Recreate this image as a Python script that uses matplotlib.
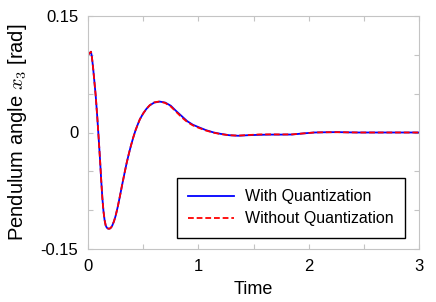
import matplotlib
matplotlib.use("Agg")
import matplotlib.pyplot as plt

# ---- data ----
t_quant = [0.0, 0.01, 0.02, 0.027, 0.035, 0.045, 0.055, 0.07, 0.085, 0.097,
           0.109, 0.12, 0.13, 0.14, 0.15, 0.16, 0.17, 0.18, 0.19, 0.2,
           0.21, 0.22, 0.235, 0.25, 0.27, 0.29, 0.31, 0.33, 0.35, 0.37,
           0.39, 0.41, 0.43, 0.45, 0.47, 0.50, 0.53, 0.56, 0.60, 0.65,
           0.70, 0.75, 0.80, 0.85, 0.90, 0.95, 1.00, 1.07, 1.14, 1.2,
           1.28, 1.36, 1.45, 1.55, 1.65, 1.75, 1.85, 1.95, 2.05, 2.15,
           2.26, 2.35, 2.45, 2.6, 2.8, 3.0]
y_quant = [0.1000, 0.1015, 0.1030, 0.1040, 0.0975, 0.0850, 0.0700, 0.0470, 0.0180, -0.0080,
           -0.0350, -0.0620, -0.0840, -0.1010, -0.1125, -0.1195, -0.1225, -0.1236, -0.1239, -0.1235,
           -0.1222, -0.1198, -0.1145, -0.1075, -0.0955, -0.0815, -0.0670, -0.0530, -0.0395, -0.0275,
           -0.0165, -0.0065, 0.0025, 0.0100, 0.0170, 0.0245, 0.0305, 0.0350, 0.0385, 0.0398,
           0.0385, 0.0345, 0.0275, 0.0210, 0.0145, 0.0100, 0.0070, 0.0030, 0.0000, -0.0017,
           -0.0035, -0.0042, -0.0035, -0.0030, -0.0027, -0.0027, -0.0026, -0.0012, 0.0000, 0.0003,
           0.0005, 0.0002, 0.0000, 0.0000, 0.0000, 0.0000]

t_noquant = list(t_quant)
y_noquant = [0.1000, 0.1015, 0.1030, 0.1040, 0.0975, 0.0850, 0.0700, 0.0470, 0.0180, -0.0080,
             -0.0350, -0.0620, -0.0840, -0.1010, -0.1125, -0.1195, -0.1225, -0.1236, -0.1239, -0.1235,
             -0.1222, -0.1198, -0.1145, -0.1075, -0.0955, -0.0815, -0.0670, -0.0530, -0.0395, -0.0275,
             -0.0165, -0.0065, 0.0025, 0.0100, 0.0170, 0.0245, 0.0305, 0.0352, 0.0388, 0.0400,
             0.0380, 0.0335, 0.0265, 0.0195, 0.0135, 0.0092, 0.0062, 0.0025, -0.0003, -0.0020,
             -0.0035, -0.0040, -0.0033, -0.0025, -0.0024, -0.0025, -0.0024, -0.0012, 0.0000, 0.0003,
             0.0004, 0.0002, 0.0000, 0.0000, 0.0000, 0.0000]

x_ticks = [0, 0.5, 1, 1.5, 2, 2.5, 3]
x_tick_labels = ["0", "", "1", "", "2", "", "3"]
y_ticks = [-0.15, -0.10, -0.05, 0.0, 0.05, 0.10, 0.15]
y_tick_labels = ["-0.15", "", "", "0", "", "", "0.15"]

series_labels = ["With Quantization", "Without Quantization"]

# ---- style ----
plt.rcParams["font.family"] = ["Liberation Sans", "DejaVu Sans"]
plt.rcParams["mathtext.fontset"] = "cm"

fig = plt.figure(figsize=(4.36, 3.02), dpi=100)
ax = fig.add_axes([88 / 436, 1 - 249 / 302, (419 - 88) / 436, (249 - 16) / 302])

ax.plot(t_quant, y_quant, color="#0000ff", lw=1.3, solid_joinstyle="round",
        label=series_labels[0])
ax.plot(t_noquant, y_noquant, color="#ff0000", lw=1.3, ls=(0, (3.2, 1.6)),
        label=series_labels[1])

ax.set_xlim(0, 3)
ax.set_ylim(-0.15, 0.15)
ax.set_xticks(x_ticks)
ax.set_xticklabels(x_tick_labels)
ax.set_yticks(y_ticks)
ax.set_yticklabels(y_tick_labels)

spine_col = "#c4c4c4"
for s in ax.spines.values():
    s.set_color(spine_col)
    s.set_linewidth(0.8)
ax.tick_params(axis="both", which="both", direction="in", length=3.5, width=0.8,
               color=spine_col, top=True, right=True, labelsize=12, pad=7,
               labelcolor="black")

ax.set_xlabel("Time", fontsize=13, labelpad=5)
ax.set_ylabel("Pendulum angle $x_3$ [rad]", fontsize=14.5, labelpad=8)

leg = ax.legend(loc="upper right", bbox_to_anchor=((405 - 88) / 331, (249 - 178) / 233),
                bbox_transform=ax.transAxes, borderaxespad=0, fontsize=11.5,
                handlelength=2.9, handletextpad=0.7, labelspacing=0.45,
                borderpad=0.7, fancybox=False, framealpha=1, edgecolor="black")
leg.get_frame().set_linewidth(1.0)

fig.savefig("out.png", dpi=100)
